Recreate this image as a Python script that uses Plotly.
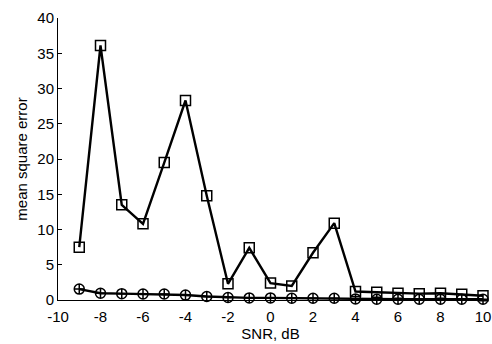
import plotly.graph_objects as go

snr = [-9, -8, -7, -6, -5, -4, -3, -2, -1, 0, 1, 2, 3, 4, 5, 6, 7, 8, 9, 10]
mse_square = [7.5, 36.1, 13.5, 10.8, 19.5, 28.3, 14.8, 2.3, 7.4, 2.4, 2.0, 6.7, 10.9, 1.2, 1.1, 0.95, 0.9, 0.95, 0.8, 0.6]
mse_circle = [1.55, 0.95, 0.9, 0.85, 0.85, 0.7, 0.5, 0.35, 0.3, 0.3, 0.25, 0.25, 0.25, 0.15, 0.1, 0.1, 0.1, 0.1, 0.1, 0.1]

x_ticks = [-10, -8, -6, -4, -2, 0, 2, 4, 6, 8, 10]
y_ticks = [0, 5, 10, 15, 20, 25, 30, 35, 40]

fig = go.Figure()
fig.add_trace(go.Scatter(
    x=snr, y=mse_circle, mode="lines+markers",
    line=dict(color="black", width=2.4),
    marker=dict(symbol="circle-cross-open", size=10, color="black", line=dict(width=1.5)),
    cliponaxis=False, showlegend=False))
fig.add_trace(go.Scatter(
    x=snr, y=mse_square, mode="lines+markers",
    line=dict(color="black", width=2.4),
    marker=dict(symbol="square-open", size=10, color="black", line=dict(width=1.5)),
    cliponaxis=False, showlegend=False))

fig.update_layout(
    width=492, height=344,
    margin=dict(l=58, r=9, t=18, b=44),
    paper_bgcolor="white", plot_bgcolor="white",
    font=dict(family="Liberation Sans, Arial, sans-serif", size=15, color="black"),
    xaxis=dict(range=[-10, 10], tickvals=x_ticks, ticktext=[str(v) for v in x_ticks],
               showgrid=False, zeroline=False, showline=True, linecolor="black", linewidth=1,
               ticks="", tickfont=dict(size=15), ticklabeloverflow="allow", ticklabelstandoff=3,
               automargin=False,
               title=dict(text="SNR, dB", font=dict(size=15), standoff=0)),
    yaxis=dict(range=[0, 40], tickvals=y_ticks, ticktext=[str(v) for v in y_ticks],
               showgrid=False, zeroline=False, showline=True, linecolor="black", linewidth=1,
               ticks="inside", ticklen=4, tickcolor="black", tickfont=dict(size=15),
               automargin=False,
               title=dict(text="mean square error", font=dict(size=15), standoff=6)),
)

fig.write_html("out.html")
